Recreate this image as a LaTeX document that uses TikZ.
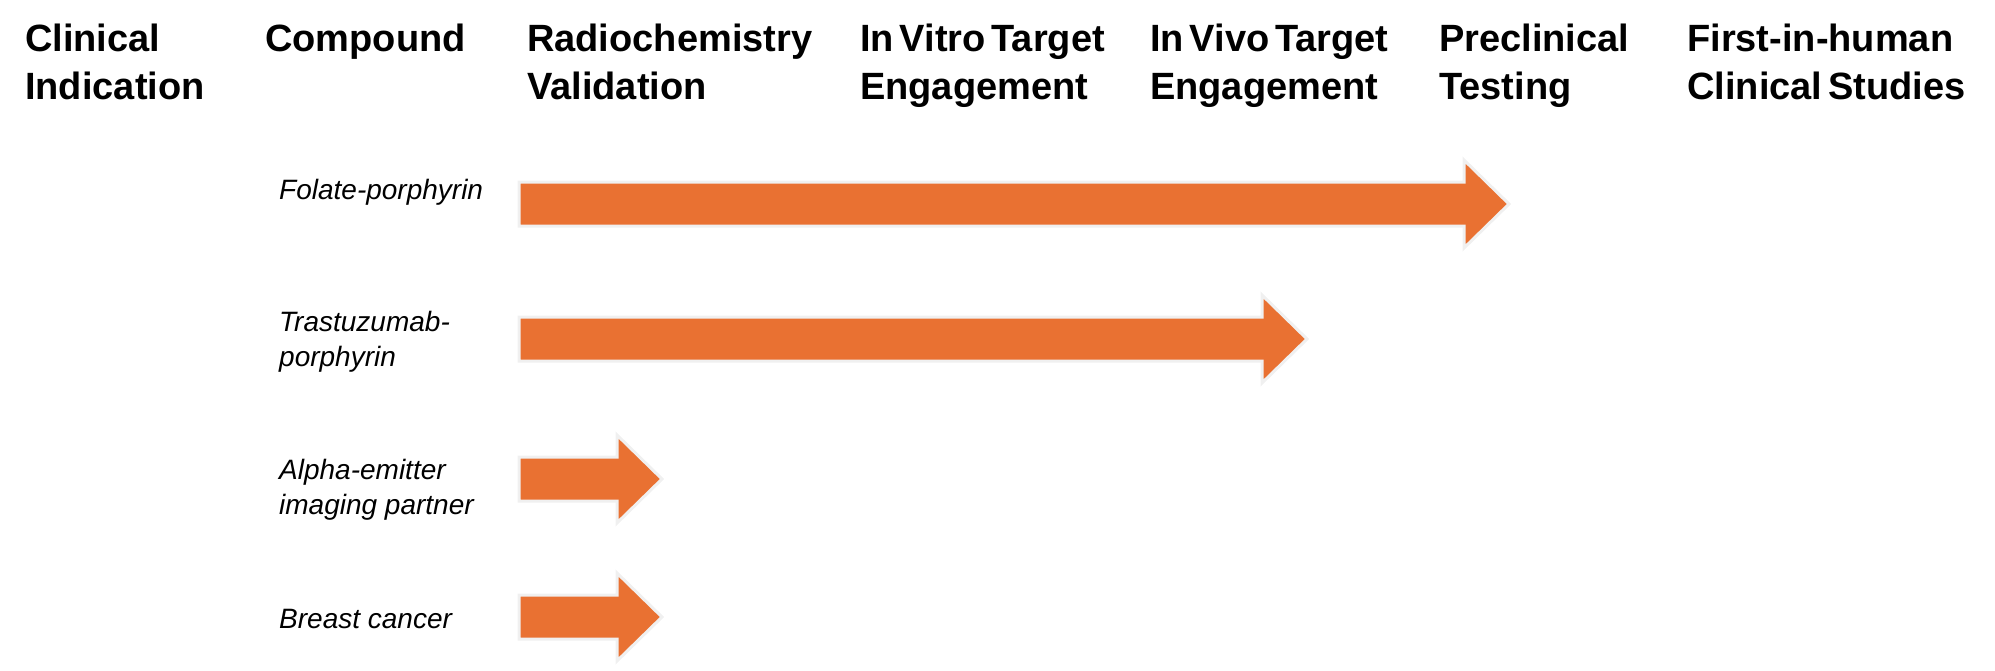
\documentclass[tikz,border=0pt]{standalone}
\usepackage{fontspec}
\setmainfont{Liberation Sans}
\newfontfamily\headfont{Liberation Sans}[WordSpace=0.55]
\definecolor{arrorange}{HTML}{E97132}
\definecolor{arredge}{HTML}{F0F0F0}
\tikzset{
  head/.style={anchor=base west, align=left, inner sep=0pt, font=\headfont\fontsize{38}{48}\selectfont\bfseries},
  lbl/.style={anchor=base west, align=left, inner sep=0pt, font=\fontsize{28}{35}\selectfont\itshape},
  blockarrow/.style={fill=arrorange, draw=arredge, line width=3pt, line join=miter}
}
\newcommand{\blockarr}[3]{% tail x, tip x, center y
  \draw[blockarrow] (#1,#3-22) -- (#2-45,#3-22) -- (#2-45,#3-44) -- (#2,#3) -- (#2-45,#3+44) -- (#2-45,#3+22) -- (#1,#3+22) -- cycle;
}
\begin{document}
\begin{tikzpicture}[x=1pt,y=-1pt]
\useasboundingbox (0,0) rectangle (1995,670);
% headers (base anchor = last line's baseline)
\node[head] (h1) at (25,99) {Clinical\\Indication};
\node[head] (h2) at (265,51) {Compound};
\node[head] (h3) at (527,99) {Radiochemistry\\Validation};
\node[head] (h4) at (860,99) {In Vitro Target\\Engagement};
\node[head] (h5) at (1150,99) {In Vivo Target\\Engagement};
\node[head] (h6) at (1439,99) {Preclinical\\Testing};
\node[head] (h7) at (1687,99) {First-in-human\\Clinical Studies};
% labels
\node[lbl] (l1) at (279,199) {Folate-porphyrin};
\node[lbl] (l2) at (279,366) {Trastuzumab-\\porphyrin};
\node[lbl] (l3) at (279,514) {Alpha-emitter\\imaging partner};
\node[lbl] (l4) at (279,628) {Breast cancer};
% arrows
\blockarr{519}{1509}{204}
\blockarr{519}{1307}{339}
\blockarr{519}{662}{479}
\blockarr{519}{662}{617}
\end{tikzpicture}
\end{document}
